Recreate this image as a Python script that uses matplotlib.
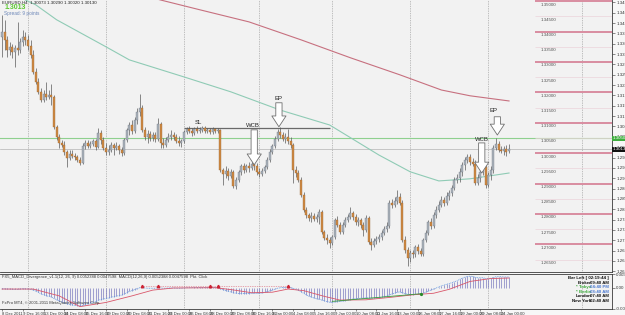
import matplotlib
matplotlib.use("Agg")
import matplotlib.pyplot as plt
import numpy as np

plt.rcParams['font.family'] = ['Liberation Sans', 'DejaVu Sans']

# EURUSD H4 candles, 8 Dec 2011 12:00 .. 24 Jan 2012 08:00
opens = [1.3383, 1.3399, 1.3373, 1.3340, 1.3350, 1.3333, 1.3347, 1.3340, 1.3366, 1.3383,
         1.3373, 1.3353, 1.3323, 1.3268, 1.3235, 1.3202, 1.3175, 1.3195, 1.3185, 1.3192,
         1.3185, 1.3087, 1.3054, 1.3034, 1.3027, 1.3004, 1.2985, 1.2998, 1.2991, 1.2988,
         1.2978, 1.2968, 1.3024, 1.3034, 1.3024, 1.3031, 1.3041, 1.3021, 1.3067, 1.3044,
         1.3018, 1.3004, 1.3011, 1.3027, 1.3018, 1.3024, 1.3011, 1.3001, 1.3044, 1.3077,
         1.3093, 1.3073, 1.3110, 1.3136, 1.3149, 1.3077, 1.3054, 1.3064, 1.3050, 1.3060,
         1.3047, 1.3096, 1.3034, 1.3027, 1.3044, 1.3054, 1.3060, 1.3054, 1.3041, 1.3034,
         1.3041, 1.3070, 1.3080, 1.3073, 1.3067, 1.3080, 1.3073, 1.3077, 1.3083, 1.3073,
         1.3077, 1.3070, 1.3080, 1.3073, 1.3077, 1.2945, 1.2932, 1.2942, 1.2925, 1.2939,
         1.2892, 1.2912, 1.2939, 1.2958, 1.2945, 1.2958, 1.2952, 1.2965, 1.2958, 1.2939,
         1.2932, 1.2942, 1.2955, 1.2978, 1.3004, 1.3024, 1.3047, 1.3070, 1.3060, 1.3047,
         1.3054, 1.3041, 1.3027, 1.2945, 1.2935, 1.2912, 1.2863, 1.2814, 1.2797, 1.2787,
         1.2794, 1.2784, 1.2790, 1.2807, 1.2741, 1.2721, 1.2715, 1.2705, 1.2725, 1.2781,
         1.2764, 1.2741, 1.2764, 1.2781, 1.2790, 1.2804, 1.2790, 1.2774, 1.2781, 1.2764,
         1.2748, 1.2787, 1.2708, 1.2698, 1.2712, 1.2718, 1.2725, 1.2738, 1.2751, 1.2761,
         1.2837, 1.2830, 1.2843, 1.2856, 1.2837, 1.2715, 1.2682, 1.2656, 1.2672, 1.2669,
         1.2692, 1.2679, 1.2669, 1.2715, 1.2738, 1.2774, 1.2761, 1.2797, 1.2814, 1.2830,
         1.2846, 1.2837, 1.2860, 1.2869, 1.2886, 1.2912, 1.2919, 1.2939, 1.2962, 1.2978,
         1.2988, 1.2971, 1.2965, 1.2902, 1.2919, 1.2939, 1.2955, 1.2896, 1.2929, 1.2945,
         1.3018, 1.3031, 1.3011, 1.3008, 1.3014, 1.3007]
highs = [1.3455, 1.3439, 1.3386, 1.3366, 1.3360, 1.3356, 1.3432, 1.3379, 1.3406, 1.3399,
         1.3389, 1.3373, 1.3340, 1.3281, 1.3248, 1.3215, 1.3208, 1.3235, 1.3208, 1.3228,
         1.3192, 1.3093, 1.3064, 1.3044, 1.3041, 1.3011, 1.3011, 1.3011, 1.3001, 1.2994,
         1.2988, 1.3034, 1.3044, 1.3044, 1.3041, 1.3047, 1.3047, 1.3083, 1.3077, 1.3054,
         1.3034, 1.3027, 1.3037, 1.3034, 1.3037, 1.3031, 1.3021, 1.3050, 1.3083, 1.3103,
         1.3110, 1.3120, 1.3149, 1.3195, 1.3159, 1.3087, 1.3077, 1.3073, 1.3070, 1.3070,
         1.3116, 1.3103, 1.3050, 1.3054, 1.3067, 1.3077, 1.3070, 1.3064, 1.3057, 1.3047,
         1.3077, 1.3087, 1.3090, 1.3083, 1.3087, 1.3090, 1.3087, 1.3090, 1.3090, 1.3083,
         1.3083, 1.3087, 1.3083, 1.3083, 1.3080, 1.2952, 1.2958, 1.2952, 1.2948, 1.2945,
         1.2922, 1.2945, 1.2965, 1.2968, 1.2965, 1.2971, 1.2975, 1.2978, 1.2968, 1.2952,
         1.2952, 1.2962, 1.2988, 1.3014, 1.3031, 1.3057, 1.3080, 1.3087, 1.3070, 1.3067,
         1.3080, 1.3054, 1.3034, 1.2958, 1.2945, 1.2922, 1.2873, 1.2823, 1.2804, 1.2807,
         1.2804, 1.2800, 1.2817, 1.2814, 1.2748, 1.2735, 1.2725, 1.2731, 1.2787, 1.2794,
         1.2774, 1.2774, 1.2790, 1.2800, 1.2823, 1.2810, 1.2800, 1.2790, 1.2787, 1.2774,
         1.2797, 1.2794, 1.2721, 1.2721, 1.2728, 1.2735, 1.2748, 1.2761, 1.2774, 1.2846,
         1.2850, 1.2856, 1.2879, 1.2869, 1.2846, 1.2728, 1.2692, 1.2682, 1.2682, 1.2698,
         1.2702, 1.2689, 1.2721, 1.2748, 1.2781, 1.2787, 1.2807, 1.2827, 1.2843, 1.2860,
         1.2856, 1.2873, 1.2879, 1.2896, 1.2922, 1.2932, 1.2952, 1.2971, 1.2988, 1.2998,
         1.2998, 1.2985, 1.2978, 1.2932, 1.2952, 1.2968, 1.2962, 1.2939, 1.2958, 1.3027,
         1.3050, 1.3041, 1.3024, 1.3024, 1.3027, 1.3029]
lows = [1.3317, 1.3340, 1.3317, 1.3323, 1.3314, 1.3284, 1.3323, 1.3330, 1.3353, 1.3356,
        1.3340, 1.3314, 1.3261, 1.3228, 1.3195, 1.3169, 1.3169, 1.3175, 1.3179, 1.3159,
        1.3080, 1.3044, 1.3018, 1.3021, 1.2994, 1.2955, 1.2978, 1.2985, 1.2978, 1.2971,
        1.2962, 1.2965, 1.3014, 1.3018, 1.3018, 1.3024, 1.3011, 1.3018, 1.3031, 1.3011,
        1.2994, 1.2994, 1.3004, 1.2994, 1.3011, 1.2998, 1.2991, 1.2994, 1.3037, 1.3060,
        1.3064, 1.3067, 1.3096, 1.3123, 1.3070, 1.3044, 1.3034, 1.3041, 1.3041, 1.3037,
        1.3041, 1.3018, 1.3018, 1.3021, 1.3037, 1.3044, 1.3044, 1.3034, 1.3024, 1.3021,
        1.3034, 1.3064, 1.3067, 1.3057, 1.3060, 1.3067, 1.3067, 1.3070, 1.3067, 1.3067,
        1.3064, 1.3064, 1.3067, 1.3067, 1.2939, 1.2896, 1.2919, 1.2912, 1.2919, 1.2886,
        1.2883, 1.2906, 1.2929, 1.2935, 1.2939, 1.2939, 1.2945, 1.2945, 1.2929, 1.2922,
        1.2925, 1.2935, 1.2948, 1.2971, 1.2998, 1.3018, 1.3041, 1.3050, 1.3041, 1.3034,
        1.3031, 1.3018, 1.2902, 1.2922, 1.2906, 1.2856, 1.2807, 1.2787, 1.2777, 1.2774,
        1.2777, 1.2774, 1.2767, 1.2735, 1.2715, 1.2702, 1.2689, 1.2698, 1.2718, 1.2758,
        1.2735, 1.2735, 1.2758, 1.2774, 1.2784, 1.2781, 1.2764, 1.2761, 1.2754, 1.2728,
        1.2741, 1.2702, 1.2682, 1.2692, 1.2702, 1.2708, 1.2715, 1.2731, 1.2741, 1.2754,
        1.2820, 1.2823, 1.2833, 1.2830, 1.2708, 1.2672, 1.2629, 1.2642, 1.2656, 1.2659,
        1.2669, 1.2662, 1.2662, 1.2708, 1.2731, 1.2751, 1.2754, 1.2787, 1.2807, 1.2823,
        1.2827, 1.2830, 1.2846, 1.2860, 1.2879, 1.2902, 1.2906, 1.2925, 1.2945, 1.2968,
        1.2962, 1.2958, 1.2896, 1.2896, 1.2906, 1.2929, 1.2886, 1.2889, 1.2912, 1.2935,
        1.3011, 1.3004, 1.3001, 1.2994, 1.2991, 1.3002]
closes = [1.3399, 1.3373, 1.3340, 1.3350, 1.3333, 1.3347, 1.3340, 1.3366, 1.3383, 1.3373,
          1.3353, 1.3323, 1.3268, 1.3235, 1.3202, 1.3175, 1.3195, 1.3185, 1.3192, 1.3185,
          1.3087, 1.3054, 1.3034, 1.3027, 1.3004, 1.2985, 1.2998, 1.2991, 1.2988, 1.2978,
          1.2968, 1.3024, 1.3034, 1.3024, 1.3031, 1.3041, 1.3021, 1.3067, 1.3044, 1.3018,
          1.3004, 1.3011, 1.3027, 1.3018, 1.3024, 1.3011, 1.3001, 1.3044, 1.3077, 1.3093,
          1.3073, 1.3110, 1.3136, 1.3149, 1.3077, 1.3054, 1.3064, 1.3050, 1.3060, 1.3047,
          1.3096, 1.3034, 1.3027, 1.3044, 1.3054, 1.3060, 1.3054, 1.3041, 1.3034, 1.3041,
          1.3070, 1.3080, 1.3073, 1.3067, 1.3080, 1.3073, 1.3077, 1.3083, 1.3073, 1.3077,
          1.3070, 1.3080, 1.3073, 1.3077, 1.2945, 1.2932, 1.2942, 1.2925, 1.2939, 1.2892,
          1.2912, 1.2939, 1.2958, 1.2945, 1.2958, 1.2952, 1.2965, 1.2958, 1.2939, 1.2932,
          1.2942, 1.2955, 1.2978, 1.3004, 1.3024, 1.3047, 1.3070, 1.3060, 1.3047, 1.3054,
          1.3041, 1.3027, 1.2945, 1.2935, 1.2912, 1.2863, 1.2814, 1.2797, 1.2787, 1.2794,
          1.2784, 1.2790, 1.2807, 1.2741, 1.2721, 1.2715, 1.2705, 1.2725, 1.2781, 1.2764,
          1.2741, 1.2764, 1.2781, 1.2790, 1.2804, 1.2790, 1.2774, 1.2781, 1.2764, 1.2748,
          1.2787, 1.2708, 1.2698, 1.2712, 1.2718, 1.2725, 1.2738, 1.2751, 1.2761, 1.2837,
          1.2830, 1.2843, 1.2856, 1.2837, 1.2715, 1.2682, 1.2656, 1.2672, 1.2669, 1.2692,
          1.2679, 1.2669, 1.2715, 1.2738, 1.2774, 1.2761, 1.2797, 1.2814, 1.2830, 1.2846,
          1.2837, 1.2860, 1.2869, 1.2886, 1.2912, 1.2919, 1.2939, 1.2962, 1.2978, 1.2988,
          1.2971, 1.2965, 1.2902, 1.2919, 1.2939, 1.2955, 1.2896, 1.2929, 1.2945, 1.3018,
          1.3031, 1.3011, 1.3008, 1.3014, 1.3004, 1.3013]

# moving averages, read at a few bars
ma_red_bars = [50, 61, 76, 95, 115, 134, 153, 169, 180, 195]
ma_red_vals = [1.3530, 1.3504, 1.3472, 1.3432, 1.3373, 1.3314, 1.3258, 1.3208, 1.3189, 1.3172]
ma_green_bars = [9, 13, 21, 40, 49, 70, 88, 107, 126, 145, 157, 168, 180, 195]
ma_green_vals = [1.3504, 1.3488, 1.3439, 1.3350, 1.3307, 1.3251, 1.3202, 1.3142, 1.3093,
                 1.2994, 1.2939, 1.2909, 1.2916, 1.2935]

# MACD (12,26,9) main, one value per bar
macd = [-0.0003, -0.0003, -0.0004, -0.0004, -0.0005, -0.0005, -0.0005, -0.0004, -0.0003, -0.0003,
        -0.0004, -0.0005, -0.0008, -0.0012, -0.0017, -0.0022, -0.0026, -0.0029, -0.0032, -0.0034,
        -0.0040, -0.0045, -0.0050, -0.0053, -0.0057, -0.0061, -0.0063, -0.0065, -0.0066, -0.0067,
        -0.0068, -0.0066, -0.0063, -0.0060, -0.0057, -0.0054, -0.0052, -0.0047, -0.0044, -0.0042,
        -0.0040, -0.0038, -0.0035, -0.0033, -0.0031, -0.0029, -0.0027, -0.0023, -0.0018, -0.0013,
        -0.0010, -0.0006, -0.0002, 0.0001, 0.0001, 0.0000, -0.0001, -0.0001, -0.0001, -0.0001,
        0.0001, 0.0000, -0.0001, -0.0001, 0.0000, 0.0000, 0.0000, -0.0001, -0.0001, -0.0001,
        0.0000, 0.0001, 0.0001, 0.0001, 0.0002, 0.0002, 0.0002, 0.0002, 0.0002, 0.0002,
        0.0002, 0.0002, 0.0002, 0.0002, -0.0003, -0.0007, -0.0010, -0.0013, -0.0015, -0.0018,
        -0.0020, -0.0021, -0.0021, -0.0021, -0.0021, -0.0021, -0.0020, -0.0020, -0.0020, -0.0020,
        -0.0019, -0.0017, -0.0014, -0.0011, -0.0008, -0.0004, -0.0001, 0.0001, 0.0002, 0.0002,
        0.0003, 0.0002, -0.0002, -0.0005, -0.0009, -0.0014, -0.0020, -0.0026, -0.0031, -0.0035,
        -0.0038, -0.0041, -0.0043, -0.0046, -0.0049, -0.0052, -0.0054, -0.0055, -0.0053, -0.0052,
        -0.0051, -0.0050, -0.0048, -0.0046, -0.0044, -0.0042, -0.0041, -0.0040, -0.0039, -0.0039,
        -0.0037, -0.0038, -0.0039, -0.0039, -0.0038, -0.0037, -0.0035, -0.0033, -0.0031, -0.0026,
        -0.0023, -0.0020, -0.0016, -0.0015, -0.0018, -0.0021, -0.0024, -0.0025, -0.0025, -0.0024,
        -0.0024, -0.0023, -0.0020, -0.0016, -0.0011, -0.0008, -0.0004, 0.0000, 0.0004, 0.0008,
        0.0011, 0.0014, 0.0017, 0.0020, 0.0024, 0.0027, 0.0033, 0.0037, 0.0041, 0.0044,
        0.0045, 0.0044, 0.0040, 0.0039, 0.0039, 0.0039, 0.0036, 0.0036, 0.0037, 0.0040,
        0.0043, 0.0043, 0.0043, 0.0042, 0.0042, 0.0042]
signal_bars = [0, 12, 22, 30, 40, 50, 58, 66, 82, 88, 96, 104, 110, 116, 124, 130, 140,
               150, 158, 166, 172, 180, 188, 195]
signal_vals = [-0.0004, -0.0004, -0.0030, -0.0071, -0.0055, -0.0030, -0.0008, 0.0000, 0.0001,
               -0.0006, -0.0018, -0.0016, -0.0004, -0.0010, -0.0032, -0.0046, -0.0045, -0.0035,
               -0.0026, -0.0020, -0.0005, 0.0025, 0.0036, 0.0038]
div_up_bars = [54, 60, 80, 83, 110]
div_green_bars = [127, 161]
div_green_vals = [-0.0051, -0.0022]

# drawn objects
sl_price = 1.3082
sl_bars = [70, 126]
green_level = 1.3050
bid = 1.3013
pink_levels = [1.265, 1.270, 1.275, 1.280, 1.285, 1.290, 1.295, 1.300, 1.305,
               1.310, 1.315, 1.320, 1.325, 1.330, 1.335, 1.340, 1.345, 1.350]
arrow_bars = [97, 106.5, 184.5, 190.5]
arrow_tips = [1.2962, 1.3087, 1.2935, 1.3060]
arrow_tops = [1.3077, 1.3166, 1.3034, 1.3120]
note_texts = ["SL", "WCB", "EP", "WCB", "EP"]
note_bars = [75.4, 96.5, 106.5, 184.6, 189.2]
note_prices = [1.3100, 1.3090, 1.3180, 1.3044, 1.3142]
grid_bars = [10, 40, 70, 99, 127, 157, 187, 223]
date_bars = list(range(0, 196, 8))
date_labels = ["8 Dec 2011", "9 Dec 16:00", "13 Dec 00:00", "14 Dec 08:00", "15 Dec 16:00",
               "19 Dec 00:00", "20 Dec 08:00", "21 Dec 16:00", "23 Dec 00:00", "26 Dec 08:00",
               "28 Dec 00:00", "29 Dec 08:00", "30 Dec 16:00", "3 Jan 00:00", "4 Jan 08:00",
               "5 Jan 16:00", "9 Jan 00:00", "10 Jan 08:00", "11 Jan 16:00", "13 Jan 00:00",
               "16 Jan 08:00", "17 Jan 16:00", "19 Jan 00:00", "20 Jan 08:00", "24 Jan 00:00"]

W, H = 625, 315
BG = '#f2f2f2'
fig = plt.figure(figsize=(W / 100, H / 100), dpi=100, facecolor='#f7f7f7')
ax = fig.add_axes([0, 43 / H, 612 / W, 272 / H], facecolor=BG)
sub = fig.add_axes([0, 6 / H, 612 / W, 35 / H], facecolor=BG)

o, h, l, c = map(np.array, (opens, highs, lows, closes))
idx = np.arange(len(c))
up = c >= o
bottom = np.minimum(o, c)
height = np.maximum(np.abs(c - o), 0.00012)

for a in (ax, sub):
    for g in grid_bars:
        a.axvline(g, color='#8a8a8a', lw=0.5, ls=(0, (1, 1.5)), zorder=1)

# horizontal levels
ax.axhline(green_level, color='#8fd08f', lw=0.8, zorder=2)
ax.axhline(bid, color='#b4b4b4', lw=0.5, zorder=2)
for lv in pink_levels:
    whole = abs(lv * 100 - round(lv * 100)) < 1e-6
    ax.hlines(lv, 205, 240, color='#d98da0' if whole else '#ecd3da',
              lw=1.4 if whole else 0.5, zorder=2)
    ax.annotate(f"{lv:.5f}", (207, lv), xytext=(0, -1), textcoords='offset points',
                fontsize=3.2, color='#555555', va='top', ha='left', zorder=6)

ax.plot(ma_red_bars, ma_red_vals, color='#c7707f', lw=0.8, zorder=2)
ax.plot(ma_green_bars, ma_green_vals, color='#8fcbb5', lw=0.8, zorder=2)
ax.hlines(sl_price, sl_bars[0], sl_bars[1], color='#6a6a6a', lw=0.9, zorder=2)

# candles
ax.vlines(idx, l, h, color='#5a5a5a', lw=0.5, zorder=3)
ax.bar(idx[up], height[up], bottom=bottom[up], width=0.72, color='#aab2bb',
       edgecolor='#6d7680', lw=0.25, zorder=4)
ax.bar(idx[~up], height[~up], bottom=bottom[~up], width=0.72, color='#d08a44',
       edgecolor='#96622f', lw=0.25, zorder=4)

for b, tip, top in zip(arrow_bars, arrow_tips, arrow_tops):
    ax.annotate('', xy=(b, tip), xytext=(b, top), zorder=7,
                arrowprops=dict(arrowstyle='simple,head_width=1.7,head_length=1.3,tail_width=0.75',
                                fc='white', ec='#707070', lw=0.6, mutation_scale=6,
                                shrinkA=0, shrinkB=0))
for t, b, p in zip(note_texts, note_bars, note_prices):
    ax.text(b, p, t, fontsize=4.3, color='#222222', ha='center', va='center', zorder=8)

ax.set_xlim(-0.77, 234.6)
ax.set_ylim(1.26095, 1.3504)
ax.yaxis.tick_right()
ax.set_yticks(np.arange(1.2612, 1.3500, 0.0034))
ax.yaxis.set_major_formatter(plt.FormatStrFormatter('%.5f'))
ax.tick_params(axis='y', labelsize=3.2, length=2, pad=1, colors='#333333', width=0.4)
ax.set_xticks([])

# MACD window
sub.vlines(idx, 0, macd, color='#7d7dc0', lw=0.5, zorder=3)
sub.plot(idx, macd, color='#5a94e0', lw=0.6, ls=(0, (1, 1)), zorder=4)
sub.plot(signal_bars, signal_vals, color='#d9566a', lw=0.6, zorder=4)
sub.plot([div_up_bars[0], div_up_bars[-1]], [0.0007, 0.0007], color='#d9566a', lw=0.5,
         ls=(0, (1, 1.5)), zorder=4)
sub.plot(div_up_bars, [0.0009] * len(div_up_bars), '^', color='#cc2233', ms=1.8, zorder=5)
sub.plot(div_green_bars, div_green_vals, color='#3a9a3a', lw=0.6, zorder=4)
sub.plot(div_green_bars[-1:], div_green_vals[-1:], 'o', color='#2a8a2a', ms=1.3, zorder=5)
sub.set_xlim(-0.77, 234.6)
sub.set_ylim(-0.0080, 0.00533)
sub.yaxis.tick_right()
sub.set_yticks([0.0053, 0.0, -0.0079])
sub.set_yticklabels(["0.0053", "0.00", "-0.0079"])
sub.tick_params(axis='y', labelsize=3.2, length=2, pad=1, colors='#333333', width=0.4)
sub.set_xticks(date_bars)
sub.set_xticklabels(date_labels, ha='left',
                    family=['Liberation Sans Narrow', 'Liberation Sans'])
sub.tick_params(axis='x', labelsize=3.0, length=1.5, pad=0.8, colors='#333333', width=0.4)

for a in (ax, sub):
    a.spines['left'].set_visible(False)
    for s in ('right', 'bottom', 'top'):
        a.spines[s].set_color('#3a3a3a')
        a.spines[s].set_linewidth(0.6)
ax.spines['top'].set_visible(False)

# price tags on the right axis
fig.text(613 / W, 1 - 138.3 / H, "1.3050", fontsize=3.2, color='white', va='center',
         bbox=dict(boxstyle='square,pad=0.15', fc='#3fae3f', ec='none'))
fig.text(613 / W, 1 - 149.3 / H, "1.3013", fontsize=3.2, color='white', va='center',
         bbox=dict(boxstyle='square,pad=0.15', fc='#111111', ec='none'))

# header texts
fig.text(2 / W, 1 - 3 / H, "EURUSD,H4  1.30073 1.30290 1.30020 1.30130", fontsize=3.2,
         color='#222222', va='center')
fig.text(5 / W, 1 - 7.5 / H, "1.3013", fontsize=5, color='#5cc832', fontweight='bold', va='center')
fig.text(4 / W, 1 - 14 / H, "Spread: 9 points", fontsize=3.4, color='#6b86b8', va='center')

fig.text(2 / W, 1 - 277 / H,
         "FX5_MACD_Divergence_v1.1(12, 26, 9) 0.0052388 0.0047598  MACD(12,26,9) 0.0052388 0.0047598  Pkt. Click",
         fontsize=3, color='#333333', va='center')
fig.text(2 / W, 1 - 303 / H, "FxPro MT4, \u00a9 2001-2011 MetaQuotes Software Corp.",
         fontsize=3, color='#333333', va='center')

clock_names = ["Broker", "* Tokyo", "* Berlin", "London", "New York"]
clock_times = ["09:40 AM", "04:40 PM", "08:40 AM", "07:40 AM", "02:40 AM"]
name_colors = ['#111111', '#3aa83a', '#3aa83a', '#111111', '#111111']
time_colors = ['#111111', '#4a78d0', '#4a78d0', '#111111', '#111111']
fig.text(609 / W, 1 - 278.5 / H, "Bar Left [ 02:19:44 ]", fontsize=3.2, color='#111111',
         ha='right', va='center', fontweight='bold')
for k, (nm, tm) in enumerate(zip(clock_names, clock_times)):
    yy = 1 - (283 + 4.4 * k) / H
    fig.text(591 / W, yy, nm, fontsize=3.2, color=name_colors[k], ha='right', va='center',
             fontweight='bold')
    fig.text(609 / W, yy, tm, fontsize=3.2, color=time_colors[k], ha='right', va='center',
             fontweight='bold')

fig.savefig("out.png", dpi=100, facecolor=fig.get_facecolor())
